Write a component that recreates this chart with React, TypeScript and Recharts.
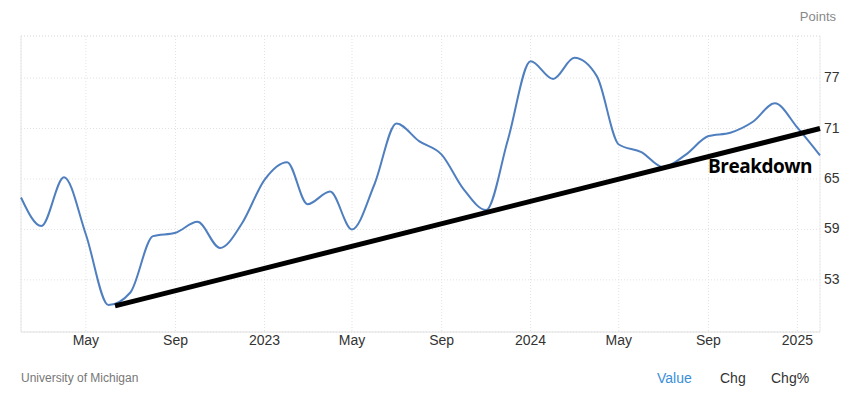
import React from 'react';
import { LineChart, Line, XAxis, YAxis, CartesianGrid, ReferenceLine, ReferenceDot } from 'recharts';

const months: string[] = [
  '2022-02', '2022-03', '2022-04', '2022-05', '2022-06', '2022-07', '2022-08', '2022-09', '2022-10', '2022-11', '2022-12',
  '2023-01', '2023-02', '2023-03', '2023-04', '2023-05', '2023-06', '2023-07', '2023-08', '2023-09', '2023-10', '2023-11', '2023-12',
  '2024-01', '2024-02', '2024-03', '2024-04', '2024-05', '2024-06', '2024-07', '2024-08', '2024-09', '2024-10', '2024-11', '2024-12',
  '2025-01', '2025-02',
];
const sentiment: number[] = [
  62.8, 59.4, 65.2, 58.4, 50.0, 51.5, 58.2, 58.6, 59.9, 56.8, 59.7,
  64.9, 67.0, 62.0, 63.5, 59.0, 64.4, 71.6, 69.5, 67.9, 63.8, 61.3, 69.7,
  79.0, 76.9, 79.4, 77.2, 69.1, 68.2, 66.4, 67.9, 70.1, 70.5, 71.8, 74.0,
  71.1, 67.8,
];
const tickMonths: string[] = ['2022-05', '2022-09', '2023-01', '2023-05', '2023-09', '2024-01', '2024-05', '2024-09', '2025-01'];
const tickLabels: string[] = ['May', 'Sep', '2023', 'May', 'Sep', '2024', 'May', 'Sep', '2025'];
const yTicks: number[] = [53, 59, 65, 71, 77];
const yDomain: [number, number] = [46.8, 82];
const trendStart = { date: '2022-06-10', value: 49.9 };
const trendEnd = { date: '2025-02-01', value: 71.0 };
const annotation = { text: 'Breakdown', date: '2025-02-01', value: 65.7 };

const toTs = (s: string) => {
  const [y, m, d] = s.split('-').map(Number);
  return Date.UTC(y, m - 1, d || 1);
};

const data = months.map((m, i) => ({ t: toTs(m), v: sentiment[i] }));
const xTicks = tickMonths.map(toTs);
const labelMap: Record<number, string> = {};
xTicks.forEach((t, i) => { labelMap[t] = tickLabels[i]; });
const xDomain: [number, number] = [data[0].t, data[data.length - 1].t];

const FONT = "Arial, 'Liberation Sans', Helvetica, sans-serif";

const XTick = (props: any) => {
  const { x, y, payload } = props;
  return (
    <text x={x} y={y} dy={13} textAnchor="middle" fill="#333" fontSize={14} fontFamily={FONT}>
      {labelMap[payload.value]}
    </text>
  );
};

const YTick = (props: any) => {
  const { x, y, payload } = props;
  return (
    <text x={x} y={y} dy={4} textAnchor="start" fill="#333" fontSize={14} fontFamily={FONT}>
      {payload.value}
    </text>
  );
};

export default function App() {
  return (
    <div style={{ position: 'absolute', left: 0, top: 0, width: 846, height: 401, background: '#fff' }}>
      <LineChart width={846} height={401} data={data} margin={{ top: 36, right: 0, bottom: 0, left: 21 }}>
        <CartesianGrid stroke="#e2e2e2" strokeDasharray="1 2" />
        <XAxis
          dataKey="t"
          type="number"
          domain={xDomain}
          ticks={xTicks}
          interval={0}
          height={69}
          tickLine={false}
          tickSize={0}
          tickMargin={0}
          axisLine={{ stroke: '#e0e0e0' }}
          tick={<XTick />}
        />
        <YAxis
          orientation="right"
          width={26}
          domain={yDomain}
          ticks={yTicks}
          interval={0}
          axisLine={false}
          tickLine={false}
          tickSize={0}
          tickMargin={4}
          tick={<YTick />}
        />
        <ReferenceLine y={yDomain[1]} stroke="#e2e2e2" strokeDasharray="1 2" />
        <ReferenceLine x={xDomain[0]} stroke="#e6e6e6" />
        <ReferenceLine x={xDomain[1]} stroke="#ececec" />
        <Line
          dataKey="v"
          type="monotone"
          stroke="#4f7fbf"
          strokeWidth={2}
          dot={false}
          activeDot={false}
          isAnimationActive={false}
        />
        <ReferenceLine
          segment={[{ x: toTs(trendStart.date), y: trendStart.value }, { x: toTs(trendEnd.date), y: trendEnd.value }]}
          stroke="#000"
          strokeWidth={5}
          ifOverflow="visible"
        />
        <ReferenceDot
          x={toTs(annotation.date)}
          y={annotation.value}
          r={0}
          ifOverflow="visible"
          shape={(p: any) => (
            <text x={p.cx - 8} y={p.cy} textAnchor="end" fill="#000" fontSize={19} fontWeight={700} letterSpacing={-0.5} fontFamily="'Open Sans', sans-serif">
              {annotation.text}
            </text>
          )}
        />
      </LineChart>
      <svg width={846} height={401} style={{ position: 'absolute', left: 0, top: 0, pointerEvents: 'none' }}>
        <text x={836} y={20.5} textAnchor="end" fill="#888" fontSize={13} fontFamily={FONT}>Points</text>
        <text x={21} y={382} textAnchor="start" fill="#777" fontSize={12} fontFamily={FONT}>University of Michigan</text>
        <text x={657} y={383} textAnchor="start" fill="#3a8fd9" fontSize={14} fontFamily={FONT}>Value</text>
        <text x={720} y={383} textAnchor="start" fill="#333" fontSize={14} fontFamily={FONT}>Chg</text>
        <text x={771} y={383} textAnchor="start" fill="#333" fontSize={14} fontFamily={FONT}>Chg%</text>
      </svg>
    </div>
  );
}
